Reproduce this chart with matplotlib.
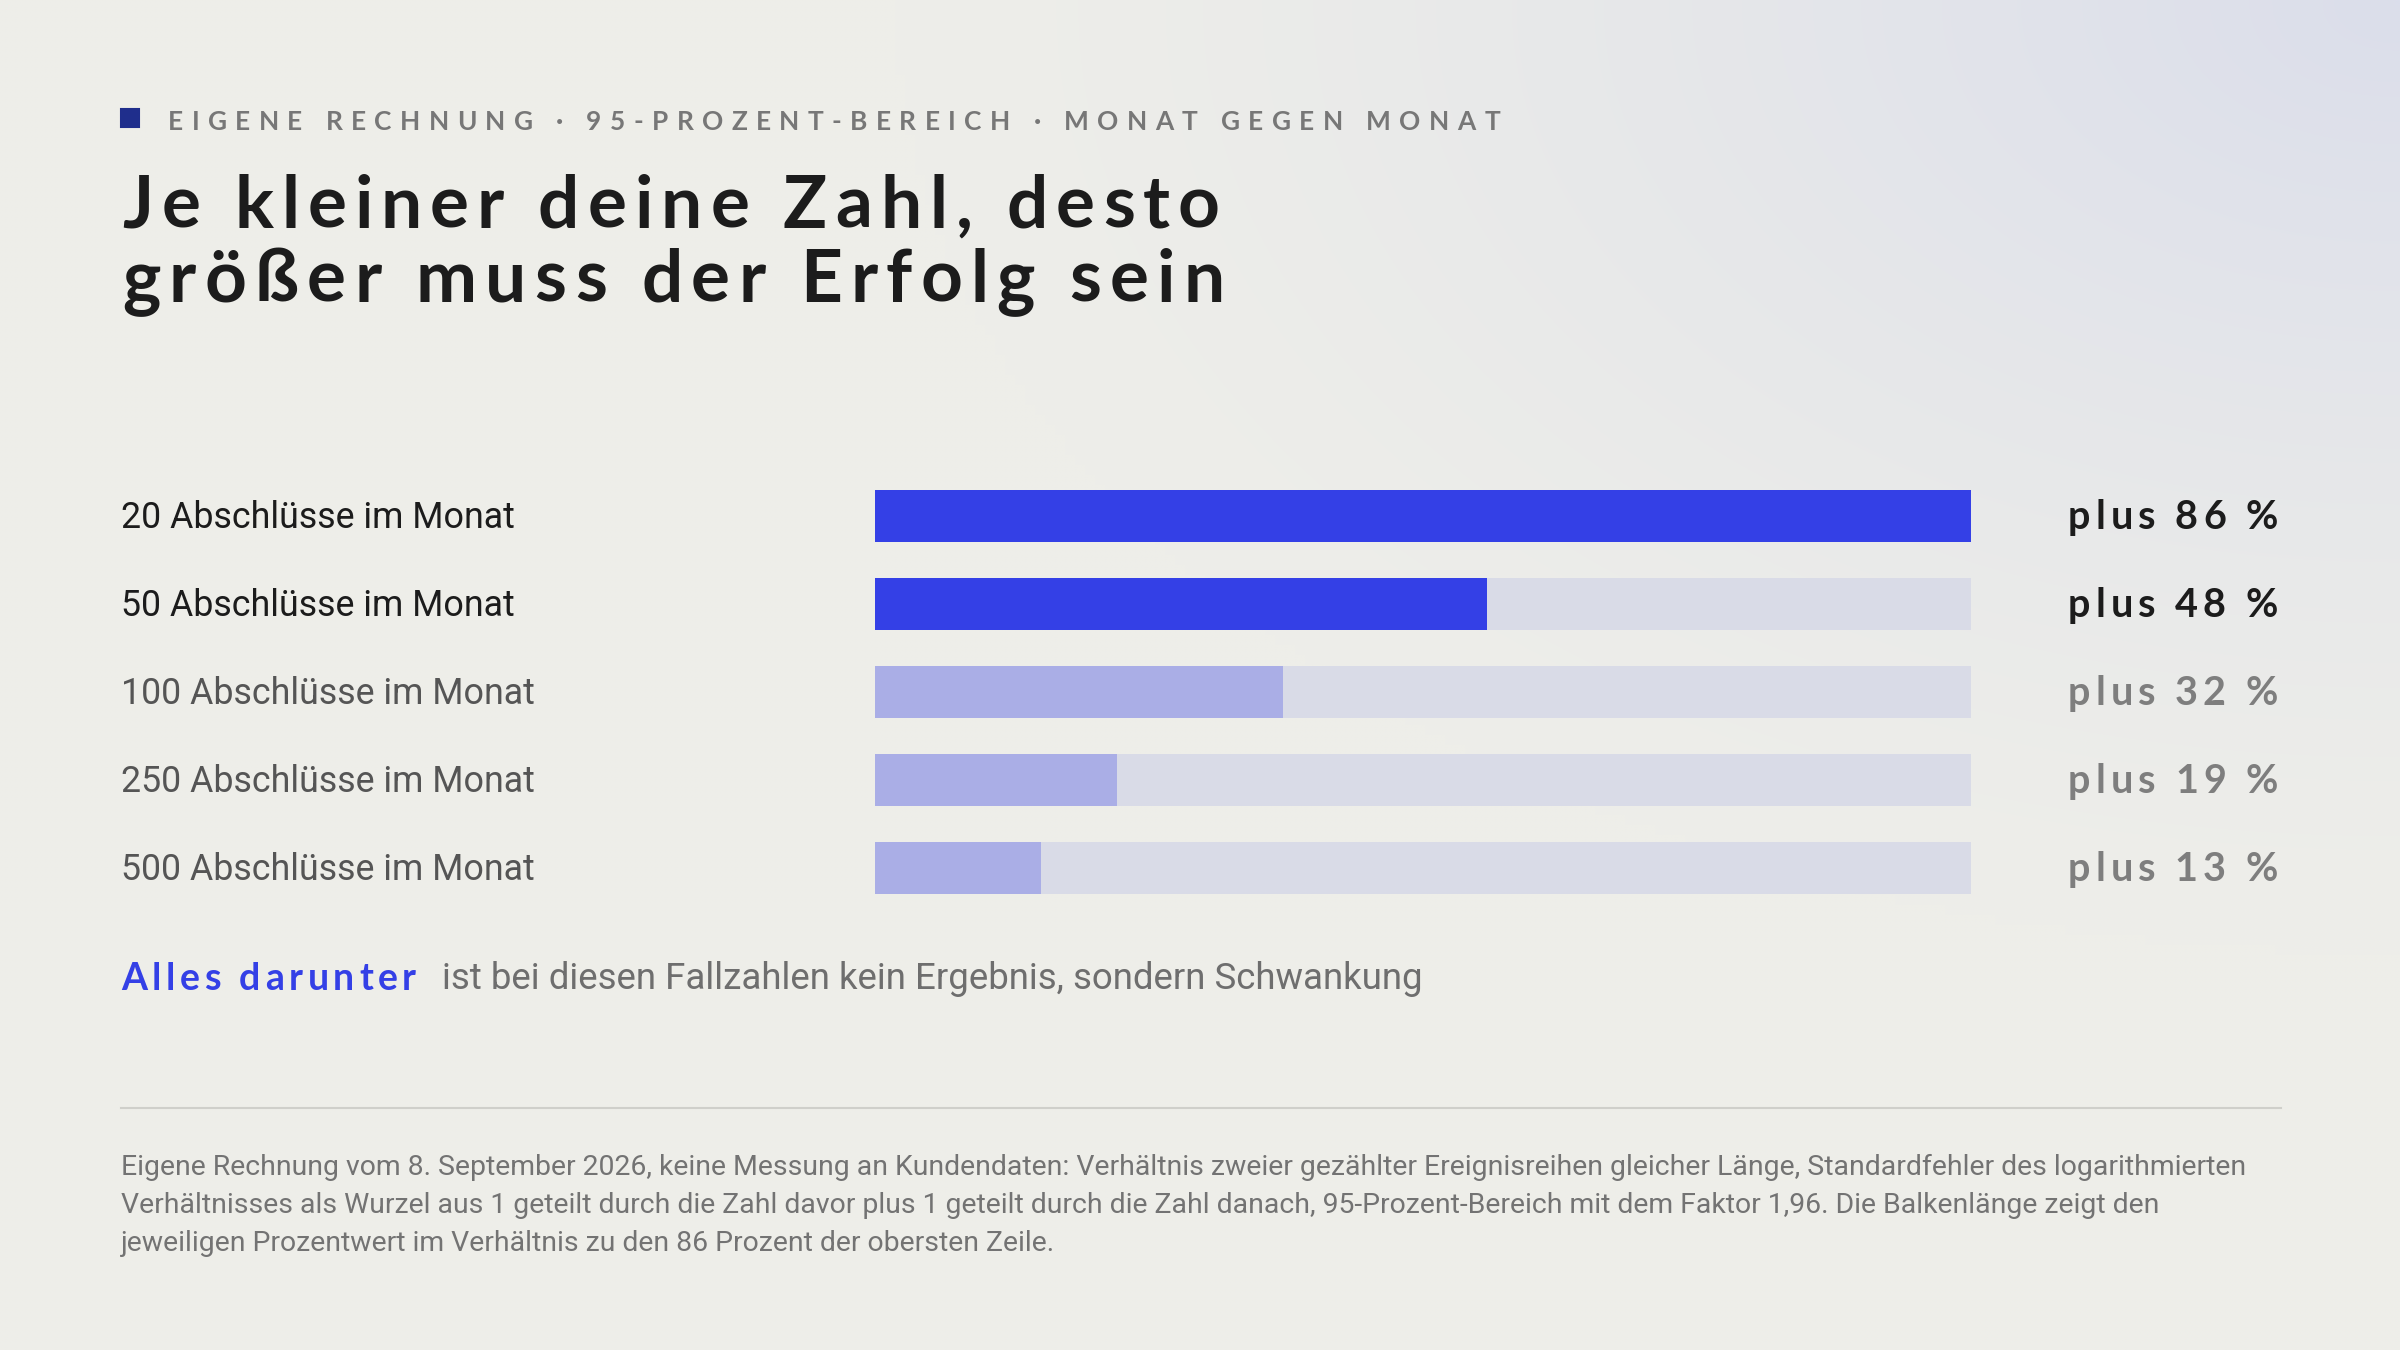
import numpy as np
import matplotlib
matplotlib.use('Agg')
import matplotlib.pyplot as plt

# ---- data ----
categories = ['20 Abschlüsse im Monat', '50 Abschlüsse im Monat', '100 Abschlüsse im Monat',
              '250 Abschlüsse im Monat', '500 Abschlüsse im Monat']
values = [86, 48, 32, 19, 13]
value_labels = ['plus 86 %', 'plus 48 %', 'plus 32 %', 'plus 19 %', 'plus 13 %']
highlight = [True, True, False, False, False]

kicker = 'EIGENE RECHNUNG · 95-PROZENT-BEREICH · MONAT GEGEN MONAT'
title_lines = ['Je kleiner deine Zahl, desto', 'größer muss der Erfolg sein']
note_strong = 'Alles darunter'
note_rest = 'ist bei diesen Fallzahlen kein Ergebnis, sondern Schwankung'
footnote_lines = [
    'Eigene Rechnung vom 8. September 2026, keine Messung an Kundendaten: Verhältnis zweier gezählter '
    'Ereignisreihen gleicher Länge, Standardfehler des logarithmierten',
    'Verhältnisses als Wurzel aus 1 geteilt durch die Zahl davor plus 1 geteilt durch die Zahl danach, '
    '95-Prozent-Bereich mit dem Faktor 1,96. Die Balkenlänge zeigt den',
    'jeweiligen Prozentwert im Verhältnis zu den 86 Prozent der obersten Zeile.',
]

# ---- style ----
BG = np.array([238, 238, 233]) / 255
CORNER = np.array([219, 222, 235]) / 255
BLUE = '#3440E6'
BLUE_LIGHT = '#AAAEE6'
TRACK = '#D9DBE7'
DARK = '#1C1C1C'
GREY = '#555555'
GREY_VAL = '#7E7E7E'
DISPLAY = 'Lato'
BODY = 'Roboto'

W, H, DPI = 2400, 1350, 150
fig = plt.figure(figsize=(W / DPI, H / DPI), dpi=DPI)

# background axes in pixel units, y going down
bg = fig.add_axes([0, 0, 1, 1])
bg.set_xlim(0, W)
bg.set_ylim(H, 0)
bg.axis('off')
xx, yy = np.meshgrid(np.linspace(0, W, 240), np.linspace(0, H, 135))
d = np.sqrt(((W - xx) / 1500) ** 2 + (yy / 950) ** 2)
t = np.clip(1 - d, 0, 1) ** 1.3
img = BG[None, None, :] + t[:, :, None] * (CORNER - BG)[None, None, :]
bg.imshow(img, extent=(0, W, H, 0), aspect='auto', zorder=0, interpolation='bilinear')

renderer = fig.canvas.get_renderer()


def spaced(x, y, s, size, color, weight='normal', family=DISPLAY, width=None,
           spacing=0.0, ha='left'):
    """draw text char by char with extra letter spacing (pixel coords on bg)"""
    def w(txt):
        tt = bg.text(0, 0, txt + '|', fontsize=size, fontweight=weight, family=family)
        b = tt.get_window_extent(renderer=renderer).width
        tt.remove()
        return b
    bar = w('')
    adv = [w(s[:i]) - bar for i in range(len(s) + 1)]
    if width is not None:
        spacing = (width - adv[-1]) / (len(s) - 1)
    total = adv[-1] + spacing * (len(s) - 1)
    x0 = x - total if ha == 'right' else x
    for i, ch in enumerate(s):
        if ch != ' ':
            bg.text(x0 + adv[i] + i * spacing, y, ch, fontsize=size, fontweight=weight,
                    family=family, color=color, ha='left', va='baseline', zorder=5)
    return x0 + total


# kicker
bg.add_patch(plt.Rectangle((121, 109), 18, 18, color='#1F2E8C', zorder=5))
spaced(168, 130, kicker, 12.6, '#777777', weight='bold', width=1332)

# title
spaced(122, 228, title_lines[0], 35, DARK, weight='bold', width=1098)
spaced(122, 302, title_lines[1], 35, DARK, weight='bold', width=1103)

# ---- bars ----
x0_px, x1_px = 875, 1971
row0, step = 516, 88
n = len(values)
ax = fig.add_axes([x0_px / W, 1 - (row0 + (n - 0.5) * step) / H,
                   (x1_px - x0_px) / W, n * step / H])
ax.set_xlim(0, max(values))
ax.set_ylim(n - 0.5, -0.5)
ax.axis('off')
ypos = np.arange(n)
ax.barh(ypos, [max(values)] * n, height=0.59, color=TRACK, zorder=1)
ax.barh(ypos, values, height=0.59,
        color=[BLUE if h else BLUE_LIGHT for h in highlight], zorder=2)

# row labels and values, positioned from the bar axes' data coords
inv = bg.transData.inverted()
for i, (cat, lab, h) in enumerate(zip(categories, value_labels, highlight)):
    _, yc = inv.transform(ax.transData.transform((0, i)))
    bg.text(121, yc + 12, cat, fontsize=17.2, family=BODY,
            color=DARK if h else GREY, ha='left', va='baseline', zorder=5)
    spaced(2278, yc + 13, lab, 19, DARK if h else GREY_VAL, weight='bold',
           width=210, ha='right')

# note line
spaced(121, 990, note_strong, 18, BLUE, weight='bold', width=295)
bg.text(442, 989, note_rest, fontsize=17.6, family=BODY, color='#6E6E6E',
        ha='left', va='baseline', zorder=5)

# divider
bg.plot([121, 2281], [1108, 1108], color='#CFCFCA', lw=1.0, zorder=3)

# footnote
for k, line in enumerate(footnote_lines):
    bg.text(121, 1175 + k * 38, line, fontsize=13.6, family=BODY, color='#737373',
            ha='left', va='baseline', zorder=5)

fig.savefig('out.png', dpi=DPI)
